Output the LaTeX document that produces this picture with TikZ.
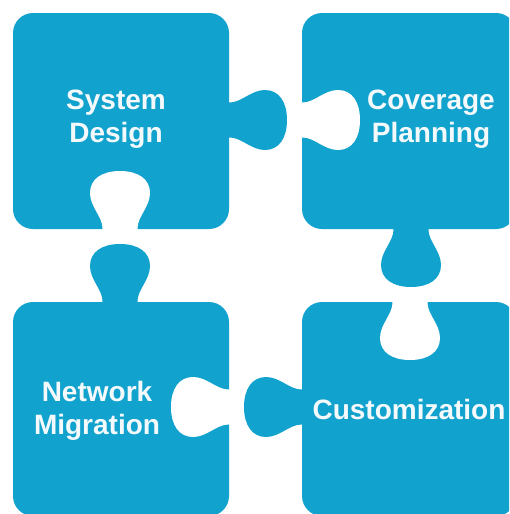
\documentclass[tikz,border=0pt]{standalone}
\usepackage{fontspec}
\setmainfont{Liberation Sans}
\definecolor{puzzleblue}{RGB}{18,162,206}
\definecolor{labelwhite}{RGB}{244,250,252}
\tikzset{
  piece/.style={fill=puzzleblue},
  hole/.style={fill=white},
  label/.style={text=labelwhite, font=\bfseries\fontsize{28}{33}\selectfont, align=center, inner sep=0pt},
}
% knob: #1 style, #2 x, #3 y (pixels), #4 rotation
\newcommand\puzknob[4]{%
  \fill[#1, shift={(#2,#3)}, rotate=#4]
    (-17.5,-3) -- (-17.5,0)
    .. controls (-17,12) and (-30,22) .. (-30,36)
    .. controls (-30,50) and (-18,58) .. (0,58)
    .. controls (18,58) and (30,50) .. (30,36)
    .. controls (30,22) and (17,12) .. (17.5,0)
    -- (17.5,-3) -- cycle;}
\begin{document}
\begin{tikzpicture}[x=1pt, y=-1pt]
  \useasboundingbox (0,0) rectangle (509,514);
  \clip (0,0) rectangle (509,514);
  % pieces
  \fill[piece, rounded corners=20pt] (13,13) rectangle (229,229);
  \fill[piece, rounded corners=20pt] (302,13) rectangle (516,229);
  \fill[piece, rounded corners=20pt] (13,302) rectangle (229,516);
  \fill[piece, rounded corners=20pt] (302,302) rectangle (516,516);
  % tabs
  \puzknob{piece}{229}{120}{90}
  \puzknob{piece}{411}{229}{0}
  \puzknob{piece}{120}{302}{180}
  \puzknob{piece}{302}{407}{-90}
  % sockets
  \puzknob{hole}{120}{229}{180}
  \puzknob{hole}{302}{120}{90}
  \puzknob{hole}{229}{407}{-90}
  \puzknob{hole}{410}{302}{0}
  % labels
  \node[label] (sys) at (116,119) {System\\Design};
  \node[label] (cov) at (431,119) {Coverage\\Planning};
  \node[label] (net) at (97,411) {Network\\Migration};
  \node[label] (cus) at (409,409) {Customization};
\end{tikzpicture}
\end{document}
